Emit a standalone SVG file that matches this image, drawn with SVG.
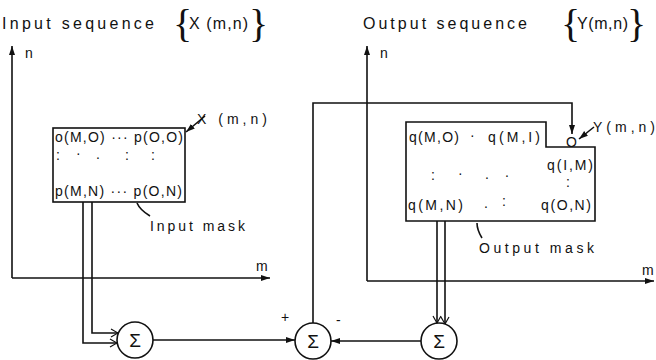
<svg xmlns="http://www.w3.org/2000/svg" width="656" height="360" viewBox="0 0 656 360">
<defs>
<style>
text{font-family:"Liberation Sans","DejaVu Sans",sans-serif;fill:#111}
.t{font-size:16px}
.b{font-size:14px}
.s{font-size:19px}
.br{font-family:"Liberation Serif","DejaVu Serif",serif;font-size:40px}
.ln{fill:none;stroke:#111;stroke-width:1.6}
.ci{fill:#fff;stroke:#111;stroke-width:1.6}
</style>
<marker id="arr" markerWidth="10" markerHeight="8" refX="9" refY="4" orient="auto" markerUnits="userSpaceOnUse">
<path d="M0,1 L9,4 L0,7 Z" fill="#111"/>
</marker>
<marker id="barb" markerWidth="10" markerHeight="10" refX="9" refY="5" orient="auto" markerUnits="userSpaceOnUse">
<path d="M2,1 L9,5 L2,9" fill="none" stroke="#111" stroke-width="1.2"/>
</marker>
</defs>

<g id="titles">
<text class="t" x="2" y="29" textLength="152" lengthAdjust="spacing">Input sequence</text>
<text class="br" x="173" y="37">{</text>
<text class="t" x="189" y="29" textLength="59" lengthAdjust="spacing">X (m,n)</text>
<text class="br" x="249" y="37">}</text>
<text class="t" x="363" y="29" textLength="164" lengthAdjust="spacing">Output sequence</text>
<text class="br" x="561" y="37">{</text>
<text class="t" x="577" y="29" textLength="51" lengthAdjust="spacing">Y(m,n)</text>
<text class="br" x="627" y="37">}</text>
</g>

<g id="input-axes">
<path class="ln" d="M12,278 V46" marker-end="url(#arr)"/>
<path class="ln" d="M12,278 H270" marker-end="url(#arr)"/>
<text class="b" x="25" y="58">n</text>
<text class="b" x="256" y="271">m</text>
</g>

<g id="output-axes">
<path class="ln" d="M367,281 V46" marker-end="url(#arr)"/>
<path class="ln" d="M367,281 H654" marker-end="url(#arr)"/>
<text class="b" x="380" y="58">n</text>
<text class="b" x="642" y="275">m</text>
</g>

<g id="input-mask">
<rect class="ln" x="53" y="128" width="132" height="74"/>
<text class="b" x="55" y="142" textLength="128" lengthAdjust="spacing">o(M,O) ··· p(O,O)</text>
<text class="b" x="56" y="160">:</text>
<text class="b" x="76" y="158">·</text>
<text class="b" x="96" y="159">.</text>
<text class="b" x="125" y="160">:</text>
<text class="b" x="151" y="160">:</text>
<text class="b" x="55" y="196" textLength="127" lengthAdjust="spacing">p(M,N) ··· p(O,N)</text>
<text class="b" x="150" y="231" textLength="95" lengthAdjust="spacing">Input mask</text>
<path class="ln" d="M150,216 Q140,210 137,203" stroke-width="1.1"/>
<text class="b" x="197" y="124" textLength="70" lengthAdjust="spacing">X (m,n)</text>
<path class="ln" d="M205,116 L186,132" stroke-width="1.1" marker-end="url(#arr)"/>
</g>

<g id="output-mask">
<path class="ln" d="M406,122 H546 V147 H595 V221 H406 Z"/>
<text class="b" x="409" y="142" textLength="50" lengthAdjust="spacing">q(M,O)</text>
<text class="b" x="470" y="140">·</text>
<text class="b" x="488" y="142" textLength="52" lengthAdjust="spacing">q(M,I)</text>
<text class="b" x="547" y="170" textLength="46" lengthAdjust="spacing">q(I,M)</text>
<text class="b" x="431" y="180">:</text>
<text class="b" x="458" y="178">·</text>
<text class="b" x="485" y="179">.</text>
<text class="b" x="505" y="177">.</text>
<text class="b" x="566" y="187">:</text>
<text class="b" x="408" y="210" textLength="55" lengthAdjust="spacing">q(M,N)</text>
<text class="b" x="484" y="208">.</text>
<text class="b" x="502" y="206">:</text>
<text class="b" x="541" y="210" textLength="50" lengthAdjust="spacing">q(O,N)</text>
<text class="b" x="479" y="253" textLength="115" lengthAdjust="spacing">Output mask</text>
<path class="ln" d="M482,238 Q477,230 477,223" stroke-width="1.1"/>
<text class="b" x="566" y="147">O</text>
<text class="b" x="593" y="132" textLength="62" lengthAdjust="spacing">Y(m,n)</text>
<path class="ln" d="M594,127 L579,139" stroke-width="1.1" marker-end="url(#arr)"/>
</g>

<g id="connectors">
<path class="ln" d="M83,202 V343 H117" marker-end="url(#barb)"/>
<path class="ln" d="M92,202 V333 H118" marker-end="url(#barb)"/>
<path class="ln" d="M153,340 H295" marker-end="url(#arr)"/>
<path class="ln" d="M421,341 H331" marker-end="url(#arr)"/>
<path class="ln" d="M313,323 V103 H572 V134" marker-end="url(#arr)"/>
<path class="ln" d="M437,221 V323" marker-end="url(#barb)"/>
<path class="ln" d="M445,221 V324" marker-end="url(#barb)"/>
</g>

<g id="sum1">
<circle class="ci" cx="135" cy="340" r="18"/>
<text class="s" x="135" y="347" text-anchor="middle">Σ</text>
</g>
<g id="sum2">
<circle class="ci" cx="313" cy="341" r="18"/>
<text class="s" x="313" y="348" text-anchor="middle">Σ</text>
<text class="b" x="281" y="322">+</text>
<text class="b" x="336" y="325">-</text>
</g>
<g id="sum3">
<circle class="ci" cx="439" cy="341" r="18"/>
<text class="s" x="439" y="348" text-anchor="middle">Σ</text>
</g>
</svg>
